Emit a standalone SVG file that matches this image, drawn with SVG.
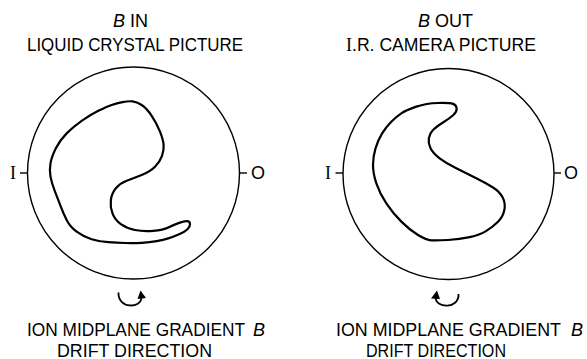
<svg xmlns="http://www.w3.org/2000/svg" width="587" height="359" viewBox="0 0 587 359">
<style>
text{font-family:"Liberation Sans","Arial",sans-serif;font-size:18px;fill:#000}
.ser{font-family:"Liberation Serif","Times New Roman",serif}
.it{font-style:italic}
.ring{fill:none;stroke:#000;stroke-width:1.4}
.blob{fill:none;stroke:#000;stroke-width:2.2;stroke-linejoin:round}
.tick{stroke:#000;stroke-width:1.4}
.rot{fill:none;stroke:#000;stroke-width:1.8}
</style>
<g id="left-panel">
<text x="113" y="26.5"><tspan class="it">B</tspan> IN</text>
<text x="27" y="51" textLength="216" lengthAdjust="spacingAndGlyphs">LIQUID CRYSTAL PICTURE</text>
<circle class="ring" cx="133.5" cy="173" r="106"/>
<line class="tick" x1="20" y1="173" x2="28" y2="173"/>
<line class="tick" x1="239" y1="173" x2="247" y2="173"/>
<text class="ser" x="10" y="178.5" font-size="18">I</text>
<text x="251" y="178.5" font-size="16">O</text>
<path class="blob" d="M111.7,105 Q116.7,103.3 122.5,102.15 Q128.3,101 132.5,101.35 Q136.7,101.7 141.7,105 Q146.7,108.3 151.7,115.8 Q156.7,123.3 160,131.65 Q163.3,140 163.65,145 Q164,150 162,155.850 Q160,161.7 155,166.7 Q150,171.7 141.65,175 Q133.3,178.3 126.65,180.8 Q120,183.3 115.85,188.3 Q111.7,193.3 110.85,200 Q110,206.7 112.5,213.35 Q115,220 120.85,224.15 Q126.7,228.3 135,230 Q143.3,231.7 153.3,230.85 Q163.3,230 168.3,227.5 Q173.3,225 179.15,222.85 Q185,220.7 187.5,221.2 Q190,221.7 190,224.2 Q190,226.7 187.5,229.2 Q185,231.7 179.15,234.2 Q173.3,236.7 168.3,238.35 Q163.3,240 156.65,241.15 Q150,242.3 141.65,242.8 Q133.3,243.3 125,243 Q116.7,242.7 108.35,242.2 Q100,241.7 91.65,239.2 Q83.3,236.7 76.65,231.7 Q70,226.7 66.65,220 Q63.3,213.3 60.8,206.65 Q58.3,200 55,191.65 Q51.7,183.3 50.5,176.65 Q49.3,170 50.5,163.35 Q51.7,156.7 55.85,148.35 Q60,140 66.65,133.35 Q73.3,126.7 81.65,120.85 Q90,115 98.35,110.85 Q106.7,106.7 111.7,105 Z"/>
<path class="rot" d="M118.5,292.5 C117.5,309 141.5,309 141.5,297"/>
<polygon points="137.5,299 146,298 140.5,290.5"/>
<text y="335.5"><tspan x="27" textLength="218" lengthAdjust="spacingAndGlyphs">ION MIDPLANE GRADIENT</tspan><tspan class="it" x="253">B</tspan></text>
<text x="57" y="356.5" textLength="155" lengthAdjust="spacingAndGlyphs">DRIFT DIRECTION</text>
</g>
<g id="right-panel">
<text x="418" y="26.5"><tspan class="it">B</tspan> OUT</text>
<text x="346" y="51"><tspan class="ser">I</tspan><tspan textLength="184" lengthAdjust="spacingAndGlyphs">.R. CAMERA PICTURE</tspan></text>
<circle class="ring" cx="448.5" cy="174" r="105.5"/>
<line class="tick" x1="335.5" y1="173" x2="343" y2="173"/>
<line class="tick" x1="554" y1="173" x2="561" y2="173"/>
<text class="ser" x="325" y="178.5" font-size="18">I</text>
<text x="564" y="178.5" font-size="16">O</text>
<path class="blob" d="M401.3,113.35 Q406.3,110 416.3,106.65 Q426.3,103.3 438,103 Q449.7,102.7 453,103.85 Q456.3,105 456.65,108.35 Q457,111.7 453.35,115 Q449.7,118.3 443,122.5 Q436.3,126.7 433,130 Q429.7,133.3 428.85,138.3 Q428,143.3 430.5,148.3 Q433,153.3 439.65,158.3 Q446.3,163.3 456.3,168.3 Q466.3,173.3 476.3,178.3 Q486.3,183.3 493,187.5 Q499.7,191.7 502.7,197.5 Q505.7,203.3 504.35,210 Q503,216.7 498,221.7 Q493,226.7 486.35,230.85 Q479.7,235 469.7,237.15 Q459.7,239.3 448,240 Q436.3,240.7 431.3,240.35 Q426.3,240 418,235 Q409.7,230 401.35,221.65 Q393,213.3 386.35,203.3 Q379.7,193.3 376.35,183.3 Q373,173.3 373,165 Q373,156.7 375.5,148.35 Q378,140 382.15,133.35 Q386.3,126.7 391.3,121.7 Q396.3,116.7 401.3,113.35 Z"/>
<path class="rot" d="M458.5,294 C459.5,309 435.5,309 435.5,297"/>
<polygon points="431,298.5 437,290.5 440,299"/>
<text y="335.5"><tspan x="336" textLength="225" lengthAdjust="spacingAndGlyphs">ION MIDPLANE GRADIENT</tspan><tspan class="it" x="571">B</tspan></text>
<text x="366" y="356.5" textLength="140" lengthAdjust="spacingAndGlyphs">DRIFT DIRECTION</text>
</g>
</svg>
